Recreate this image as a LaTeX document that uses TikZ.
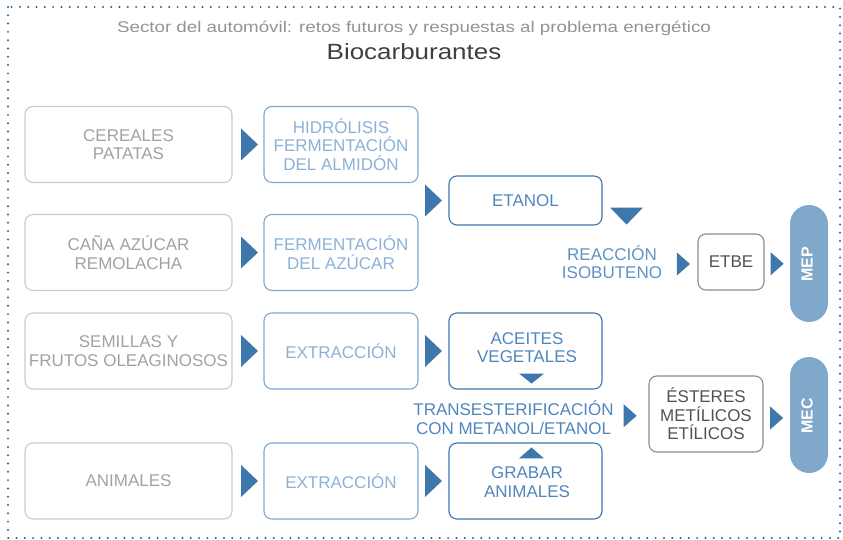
\documentclass[tikz,border=0pt]{standalone}
\usepackage{fontspec}
\setmainfont{Liberation Sans}
\usepackage{graphicx}
\usetikzlibrary{calc}
\definecolor{dotblue}{HTML}{1F5F9F}
\definecolor{trib}{HTML}{3E77AB}
\definecolor{lgborder}{HTML}{CACACA}
\definecolor{lgtext}{HTML}{A2A2A2}
\definecolor{lbborder}{HTML}{7EA8D1}
\definecolor{lbtext}{HTML}{8CB1D7}
\definecolor{mbborder}{HTML}{3E76AC}
\definecolor{mbtext}{HTML}{5086BD}
\definecolor{reacttext}{HTML}{5F92C5}
\definecolor{dgborder}{HTML}{8C8C8C}
\definecolor{dgtext}{HTML}{525252}
\definecolor{pillblue}{HTML}{80A8CA}
\definecolor{subgray}{HTML}{939393}
\definecolor{titlegray}{HTML}{3F3F3F}
\tikzset{
  boxbase/.style={rectangle, rounded corners=8pt, line width=1.1pt, align=center, inner sep=0pt, font=\fontsize{17}{18.5}\selectfont},
  srcbox/.style={boxbase, draw=lgborder, text=lgtext, minimum width=207pt, minimum height=76pt},
  procbox/.style={boxbase, draw=lbborder, text=lbtext, minimum width=154pt, minimum height=76pt},
  prodbox/.style={boxbase, draw=mbborder, text=mbtext, minimum width=153pt},
  outbox/.style={boxbase, draw=dgborder, text=dgtext},
  plaintext/.style={align=center, inner sep=0pt, font=\fontsize{17}{18.5}\selectfont},
  pillnode/.style={rectangle, rounded corners=19pt, fill=pillblue, minimum width=38pt, inner sep=0pt},
  pilltext/.style={rotate=90, text=white, inner sep=0pt, font=\bfseries\fontsize{16}{16}\selectfont},
  bigtri/.pic={\fill[trib] (-8.5,-16) -- (8.5,0) -- (-8.5,16) -- cycle;},
  smalltri/.pic={\fill[trib] (-6.5,-11.5) -- (6.5,0) -- (-6.5,11.5) -- cycle;},
  downtri/.pic={\fill[trib] (-16.5,-8.5) -- (16.5,-8.5) -- (0,8.5) -- cycle;},
  downsmall/.pic={\fill[trib] (-12.5,-5) -- (12.5,-5) -- (0,5) -- cycle;},
  upsmall/.pic={\fill[trib] (-12.5,5.5) -- (12.5,5.5) -- (0,-5.5) -- cycle;},
}
\begin{document}
\begin{tikzpicture}[x=1pt,y=-1pt]
\useasboundingbox (0,0) rectangle (843,540);
\draw[dotblue, line width=2.2pt, line cap=round, dash pattern=on 0pt off 8.3pt] (8,7) rectangle (840,538);

\node[anchor=base, text=subgray, inner sep=0pt, font=\fontsize{15.5}{18}\selectfont] (sub) at (414,32.3)
  {\scalebox{1.21}[1]{Sector del automóvil: retos futuros y respuestas al problema energético}};
\node[anchor=base, text=titlegray, inner sep=0pt, font=\fontsize{22}{26}\selectfont] (title) at (414,60)
  {\scalebox{1.18}[1]{Biocarburantes}};

% sources
\node[srcbox] (c1) at (128.5,144.5) {CEREALES\\PATATAS};
\node[srcbox] (c2) at (128.5,252.5) {CAÑA AZÚCAR\\REMOLACHA};
\node[srcbox] (c3) at (128.5,351) {SEMILLAS Y\\FRUTOS OLEAGINOSOS};
\node[srcbox] (c4) at (128.5,481) {ANIMALES};
% processes
\node[procbox] (p1) at (341,144.5) {HIDRÓLISIS\\FERMENTACIÓN\\DEL ALMIDÓN};
\node[procbox] (p2) at (341,252.5) {FERMENTACIÓN\\DEL AZÚCAR};
\node[procbox] (p3) at (341,351) {EXTRACCIÓN};
\node[procbox] (p4) at (341,481) {EXTRACCIÓN};
% products
\node[prodbox, minimum height=49pt] (etanol) at (525.5,200.5) {ETANOL};
\node[prodbox, minimum height=76pt] (aceites) at (525.5,351) {};
\node[plaintext, text=mbtext] (aceitesT) at (527,347.5) {ACEITES\\VEGETALES};
\node[prodbox, minimum height=76pt] (grabar) at (525.5,481) {};
\node[plaintext, text=mbtext] (grabarT) at (527,482) {GRABAR\\ANIMALES};

\node[plaintext, text=reacttext] (react) at (612,262) {REACCIÓN\\ISOBUTENO};
\node[outbox, minimum width=66pt, minimum height=56pt] (etbe) at (731,262) {ETBE};
\node[pillnode, minimum height=117pt] (mep) at (809,263.5) {};
\node[pilltext] (mepT) at (807,264.5) {MEP};

\node[plaintext, text=mbtext] (trans) at (513.5,417.5) {TRANSESTERIFICACIÓN\\CON METANOL/ETANOL};
\node[outbox, minimum width=114pt, minimum height=76pt] (esteres) at (706,414) {ÉSTERES\\METÍLICOS\\ETÍLICOS};
\node[pillnode, minimum height=116pt] (mec) at (809,415) {};
\node[pilltext] (mecT) at (807,416) {MEC};

% connectors (triangles)
\path ($(c1.east)!0.5!(p1.west)+(1.5pt,0)$) pic {bigtri};
\path ($(c2.east)!0.5!(p2.west)+(1.5pt,0)$) pic {bigtri};
\path ($(c3.east)!0.5!(p3.west)+(1.5pt,0)$) pic {bigtri};
\path ($(c4.east)!0.5!(p4.west)+(1.5pt,0)$) pic {bigtri};
\path ($(etanol.west)!0.5!(etanol.west -| p1.east)$) pic {bigtri};
\path ($(p3.east)!0.5!(aceites.west)$) pic {bigtri};
\path ($(p4.east)!0.5!(grabar.west)$) pic {bigtri};
\path ([xshift=24pt, yshift=9.5pt]etanol.south east) pic {downtri};
\path ($(etbe.west)+(-14pt,-2pt)$) pic {smalltri};
\path ($(etbe.east)!0.5!(mep.west)+(0,-1pt)$) pic {smalltri};
\path ([xshift=6pt, yshift=11pt]aceites.south) pic {downsmall};
\path ([xshift=6pt, yshift=-10.5pt]grabar.north) pic {upsmall};
\path ($(trans.east)!0.5!(esteres.west)+(-1pt,0)$) pic {smalltri};
\path ($(esteres.east)!0.5!(mec.west)+(0,-3.5pt)$) pic {smalltri};
\end{tikzpicture}
\end{document}
